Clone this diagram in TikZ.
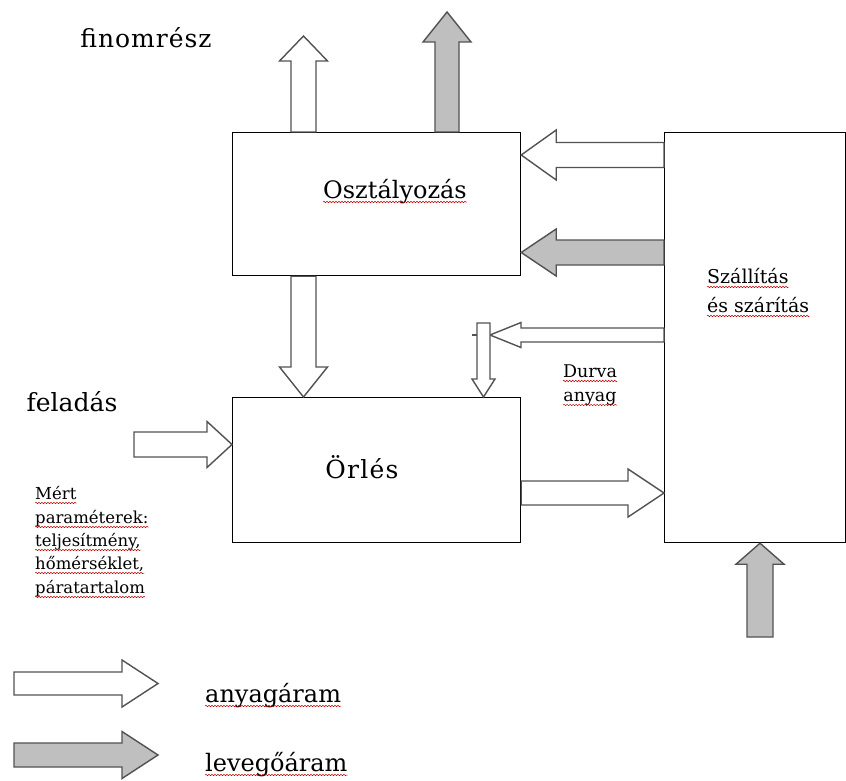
\documentclass[tikz,border=0pt]{standalone}
\usepackage{fontspec}
\setmainfont{DejaVu Serif}
\usetikzlibrary{calc,decorations.pathmorphing}
\newcommand\fsz[1]{\fontsize{#1}{#1}\selectfont}
% block arrow: #1 style, #2 start, #3 tip, #4 shaft half width, #5 head half width, #6 head length
\newcommand\barrow[6]{%
  \draw[#1] let \p1=(#2), \p2=(#3), \n1={atan2(\y2-\y1,\x2-\x1)}, \n2={veclen(\x2-\x1,\y2-\y1)} in
   [shift={(\p1)}, rotate=\n1]
   (0pt,{-#4*1pt}) -- ({\n2*1pt-#6*1pt},{-#4*1pt}) -- ({\n2*1pt-#6*1pt},{-#5*1pt})
   -- ({\n2*1pt},0pt) -- ({\n2*1pt-#6*1pt},{#5*1pt}) -- ({\n2*1pt-#6*1pt},{#4*1pt})
   -- (0pt,{#4*1pt}) -- cycle;
}
\tikzset{
  box/.style={draw=black, line width=1.2pt, inner sep=0pt, anchor=north west},
  warr/.style={draw=black!68, line width=1.4pt, fill=white, line join=miter},
  garr/.style={draw=black!68, line width=1.4pt, fill=black!25, line join=miter},
  lbl/.style={inner sep=0pt, text=black},
  wavy/.style={draw=red!75!black, line width=0.5pt, decorate,
    decoration={snake, amplitude=0.7pt, segment length=3pt}}
}
\begin{document}
\begin{tikzpicture}[x=1pt,y=-1pt]
\useasboundingbox[fill=white] (0,0) rectangle (846,781);

% boxes
\node[box, minimum width=288pt, minimum height=143pt] (osz) at (232,132) {};
\node[box, minimum width=288pt, minimum height=145pt] (orl) at (232,397) {};
\node[box, minimum width=181pt, minimum height=410pt] (szal) at (664,132) {};

% free ends
\coordinate (finT) at (303.5,36);
\coordinate (gasT) at (447,12);
\coordinate (r1) at (0,155);
\coordinate (r2) at (0,252.5);
\coordinate (r3) at (0,335);
\coordinate (r3e) at (490,335);
\coordinate (dT) at (483.5,323);
\coordinate (felS) at (134,444.5);
\coordinate (r4) at (0,493);
\coordinate (botS) at (760,637);
\coordinate (l1s) at (14,683.5);
\coordinate (l1e) at (158,683.5);
\coordinate (l2s) at (14,755);
\coordinate (l2e) at (158,755);

% arrows
\barrow{warr}{osz.north -| finT}{finT}{12.5}{24}{25}
\barrow{garr}{osz.north -| gasT}{gasT}{12}{24}{30}
\barrow{warr}{osz.south -| finT}{orl.north -| finT}{12.5}{24}{30}
\barrow{warr}{szal.west |- r1}{osz.east |- r1}{12.5}{25}{35}
\barrow{garr}{szal.west |- r2}{osz.east |- r2}{12.5}{23.5}{35}
\barrow{warr}{szal.west |- r3}{r3e}{7}{12.5}{31}
\barrow{warr}{dT}{orl.north -| dT}{6.5}{11.5}{18}
\draw[draw=black!68, line width=1.2pt] (472,335) -- (477,335);
\barrow{warr}{felS}{orl.west |- felS}{12.5}{23}{25}
\barrow{warr}{orl.east |- r4}{szal.west |- r4}{12}{24}{36}
\barrow{garr}{botS}{szal.south -| botS}{13}{24}{21}
\barrow{warr}{l1s}{l1e}{11.5}{23.5}{36}
\barrow{garr}{l2s}{l2e}{12}{23.5}{36}

% labels
\node[lbl, font=\fsz{25}\addfontfeatures{LetterSpace=4}, anchor=base] (fin) at (146,48) {finomrész};
\node[lbl, font=\fsz{24}, anchor=base] (oszt) at (395,198) {Osztályozás};
\node[lbl, font=\fsz{25}\addfontfeatures{LetterSpace=5}, anchor=base] (orlt) at (362,478) {Örlés};
\node[lbl, font=\fsz{25}, anchor=base] (fel) at (72,411) {feladás};
\node[lbl, font=\fsz{17.5}, anchor=base] (dur1) at (590,377) {Durva};
\node[lbl, font=\fsz{17.5}, anchor=base] (dur2) at (590,401) {anyag};
\node[lbl, font=\fsz{19}, anchor=base west] (sz1) at (707,283) {Szállítás};
\node[lbl, font=\fsz{19}, anchor=base west] (sz2) at (707,312) {és szárítás};
\node[lbl, font=\fsz{16.5}, anchor=base west] (m1) at (35,499) {Mért};
\node[lbl, font=\fsz{16.5}, anchor=base west] (m2) at (35,523) {paraméterek:};
\node[lbl, font=\fsz{16.5}, anchor=base west] (m3) at (35,546) {teljesítmény,};
\node[lbl, font=\fsz{16.5}, anchor=base west] (m4) at (35,569) {hőmérséklet,};
\node[lbl, font=\fsz{16.5}, anchor=base west] (m5) at (35,593) {páratartalom};
\node[lbl, font=\fsz{24}, anchor=base west] (lg1) at (205,702) {anyagáram};
\node[lbl, font=\fsz{24}, anchor=base west] (lg2) at (205,771) {levegőáram};

% spell-check underlines
\foreach \n in {oszt,dur1,dur2,sz1,sz2,m1,m2,m3,m4,m5,lg1,lg2}
  \draw[wavy] ([yshift=-4pt]\n.base west) -- ([yshift=-4pt]\n.base east);
\end{tikzpicture}
\end{document}
